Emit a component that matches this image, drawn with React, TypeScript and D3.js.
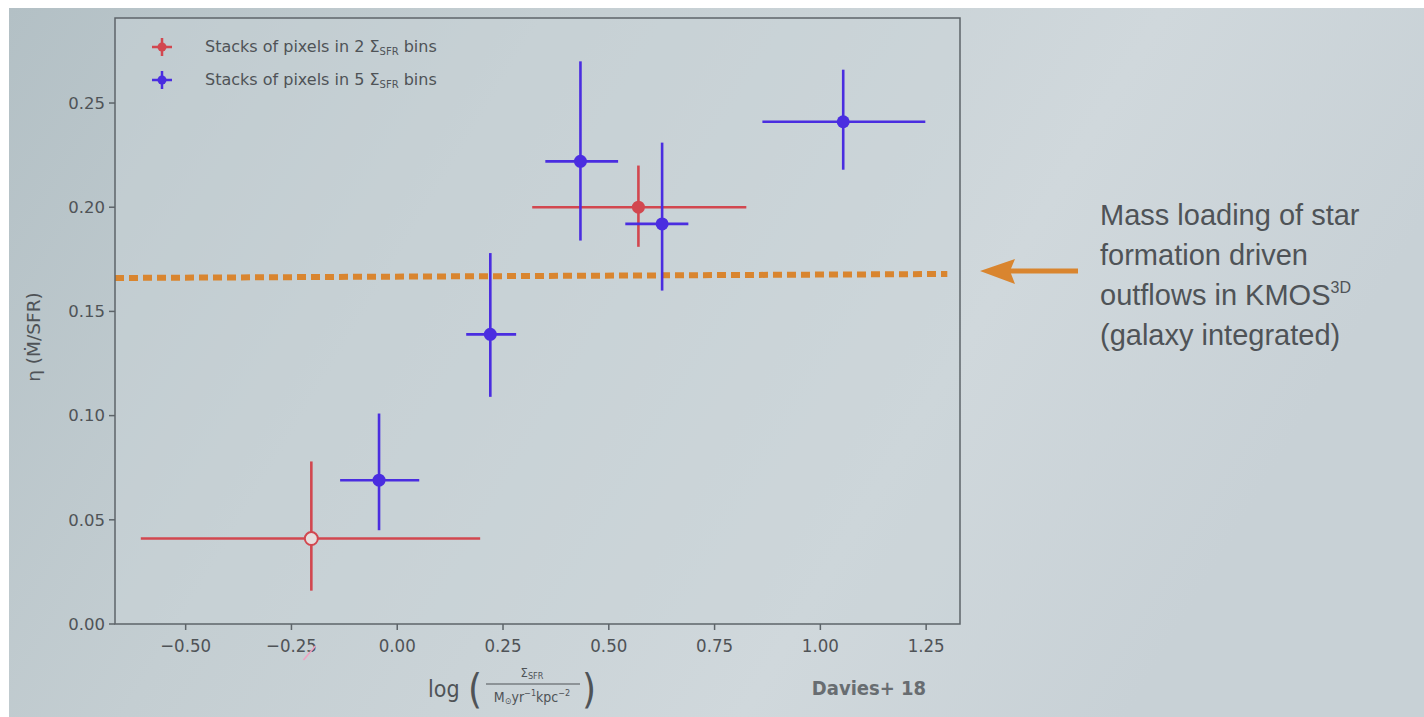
import React from "react";
import * as d3 from "d3";

// ---- data ----
const redX = [-0.203, 0.57];
const redY = [0.041, 0.2];
const redXLo = [-0.606, 0.319];
const redXHi = [0.196, 0.825];
const redYLo = [0.016, 0.181];
const redYHi = [0.078, 0.22];
const redFilled = [false, true];

const blueX = [-0.043, 0.22, 0.433, 0.626, 1.054];
const blueY = [0.069, 0.139, 0.222, 0.192, 0.241];
const blueXLo = [-0.135, 0.163, 0.35, 0.539, 0.863];
const blueXHi = [0.052, 0.281, 0.522, 0.688, 1.248];
const blueYLo = [0.045, 0.109, 0.184, 0.16, 0.218];
const blueYHi = [0.101, 0.178, 0.27, 0.231, 0.266];

const xTicks = [-0.5, -0.25, 0, 0.25, 0.5, 0.75, 1.0, 1.25];
const yTicks = [0, 0.05, 0.1, 0.15, 0.2, 0.25];
const kmosEta = 0.167;
const legendLabels = ["Stacks of pixels in 2 ", "Stacks of pixels in 5 "];
const noteLines = ["Mass loading of star", "formation driven", "outflows in KMOS", "(galaxy integrated)"];

const RED = "#d2474f";
const BLUE = "#4a2de0";
const ORANGE = "#d9852f";
const TXT = "#4f5357";

export default function App() {
  const W = 1424, H = 717;
  const left = 115, right = 960, top = 18, bottom = 624;
  const x = d3.scaleLinear().domain([-0.667, 1.33]).range([left, right]);
  const y = d3.scaleLinear().domain([0, 0.2908]).range([bottom, top]);
  const font = "'DejaVu Sans', sans-serif";
  const cond = "'DejaVu Sans Condensed', 'DejaVu Sans', sans-serif";

  const errorBar = (
    cx: number, cy: number, xl: number, xh: number, yl: number, yh: number,
    color: string, filled: boolean, key: string
  ) => (
    <g key={key}>
      <line x1={x(xl)} x2={x(xh)} y1={y(cy)} y2={y(cy)} stroke={color} strokeWidth={2.6} />
      <line x1={x(cx)} x2={x(cx)} y1={y(yl)} y2={y(yh)} stroke={color} strokeWidth={2.6} />
      <circle cx={x(cx)} cy={y(cy)} r={6.5} fill={filled ? color : "#e6dede"} stroke={color} strokeWidth={filled ? 0 : 2} />
    </g>
  );

  return (
    <svg width={W} height={H} style={{ position: "absolute", left: 0, top: 0 }}>
      <defs>
        <linearGradient id="bg" x1="0" y1="0" x2="1" y2="0.3">
          <stop offset="0" stopColor="#b3c0c5" />
          <stop offset="0.35" stopColor="#c4ced2" />
          <stop offset="0.75" stopColor="#d0d8dc" />
          <stop offset="1" stopColor="#c8d1d6" />
        </linearGradient>
      </defs>
      <rect width={W} height={H} fill="#ffffff" />
      <rect x={9} y={8} width={W - 9} height={H - 8} fill="url(#bg)" />
      <rect x={left} y={top} width={right - left} height={bottom - top} fill="#c9d3d7" opacity={0.5} />

      {/* KMOS line */}
      <line x1={x(-0.667)} x2={x(1.3)} y1={y(kmosEta) + 2} y2={y(kmosEta) - 2}
        stroke={ORANGE} strokeWidth={6} strokeDasharray="9,5" />

      {/* data */}
      {redX.map((v, i) => errorBar(v, redY[i], redXLo[i], redXHi[i], redYLo[i], redYHi[i], RED, redFilled[i], "r" + i))}
      {blueX.map((v, i) => errorBar(v, blueY[i], blueXLo[i], blueXHi[i], blueYLo[i], blueYHi[i], BLUE, true, "b" + i))}

      {/* frame */}
      <rect x={left} y={top} width={right - left} height={bottom - top} fill="none" stroke="#5d6469" strokeWidth={1.5} />

      {/* y ticks */}
      {yTicks.map((t) => (
        <g key={"y" + t}>
          <line x1={left - 6} x2={left} y1={y(t)} y2={y(t)} stroke="#5d6469" strokeWidth={1.5} />
          <text x={left - 10} y={y(t)} dy="0.35em" textAnchor="end" fontSize={16.5} fill={TXT} fontFamily={font}>
            {d3.format(".2f")(t)}
          </text>
        </g>
      ))}
      {/* x ticks */}
      {xTicks.map((t) => (
        <g key={"x" + t}>
          <line x1={x(t)} x2={x(t)} y1={bottom} y2={bottom + 6} stroke="#5d6469" strokeWidth={1.5} />
          <text x={x(t)} y={bottom + 28} textAnchor="middle" fontSize={18.5} fill={TXT} fontFamily={cond}>
            {d3.format(".2f")(t).replace("-", "\u2212")}
          </text>
        </g>
      ))}

      {/* pink mark */}
      <line x1={x(-0.25) + 12} x2={x(-0.25) + 24} y1={bottom + 36} y2={bottom + 22} stroke="#f0a0c0" strokeWidth={1.5} />

      {/* y label */}
      <text transform={`translate(40,${(top + bottom) / 2 + 16}) rotate(-90)`} textAnchor="middle" fontSize={18.5} fill={TXT} fontFamily={font}>
        η (Ṁ/SFR)
      </text>

      {/* x label */}
      <g fontFamily={cond} fill={TXT}>
        <text x={428} y={697} fontSize={23}>log</text>
        <text x={468} y={703} fontSize={40} fontWeight={200}>(</text>
        <text x={532} y={677} fontSize={13} textAnchor="middle">Σ<tspan fontSize={9} dy={2}>SFR</tspan></text>
        <line x1={486} x2={580} y1={684} y2={684} stroke={TXT} strokeWidth={1.2} />
        <text x={532} y={702} fontSize={14} textAnchor="middle">M<tspan fontSize={9} dy={2}>⊙</tspan><tspan dy={-2}>yr</tspan><tspan fontSize={9} dy={-6}>−1</tspan><tspan dy={6}>kpc</tspan><tspan fontSize={9} dy={-6}>−2</tspan></text>
        <text x={582} y={703} fontSize={40} fontWeight={200}>)</text>
        <text x={869} y={695} fontSize={20} textAnchor="middle" fontWeight="bold" opacity={0.8}>Davies+ 18</text>
      </g>

      {/* legend */}
      {[RED, BLUE].map((c, i) => {
        const ly = 47 + i * 33;
        return (
          <g key={"lg" + i}>
            <line x1={152} x2={172} y1={ly} y2={ly} stroke={c} strokeWidth={2.5} />
            <line x1={162} x2={162} y1={ly - 9} y2={ly + 9} stroke={c} strokeWidth={2.5} />
            <circle cx={162} cy={ly} r={4.5} fill={c} />
            <text x={205} y={ly + 5} fontSize={16} fill={TXT} fontFamily={font}>
              {legendLabels[i]}Σ<tspan fontSize={10} dy={3}>SFR</tspan><tspan dy={-3}> bins</tspan>
            </text>
          </g>
        );
      })}

      {/* arrow */}
      <line x1={1078} x2={1000} y1={271} y2={271} stroke={ORANGE} strokeWidth={5} />
      <path d="M980,271 L1015,259 L1010,271 L1015,284 Z" fill={ORANGE} />

      {/* note */}
      <g fontFamily="'Liberation Sans', Arial, sans-serif" fontSize={29} fill={TXT}>
        {noteLines.map((l, i) => (
          <text key={"n" + i} x={1100} y={225 + i * 40}>
            {l}
            {i === 2 ? <tspan fontSize={16} dy={-12}>3D</tspan> : null}
          </text>
        ))}
      </g>
    </svg>
  );
}
